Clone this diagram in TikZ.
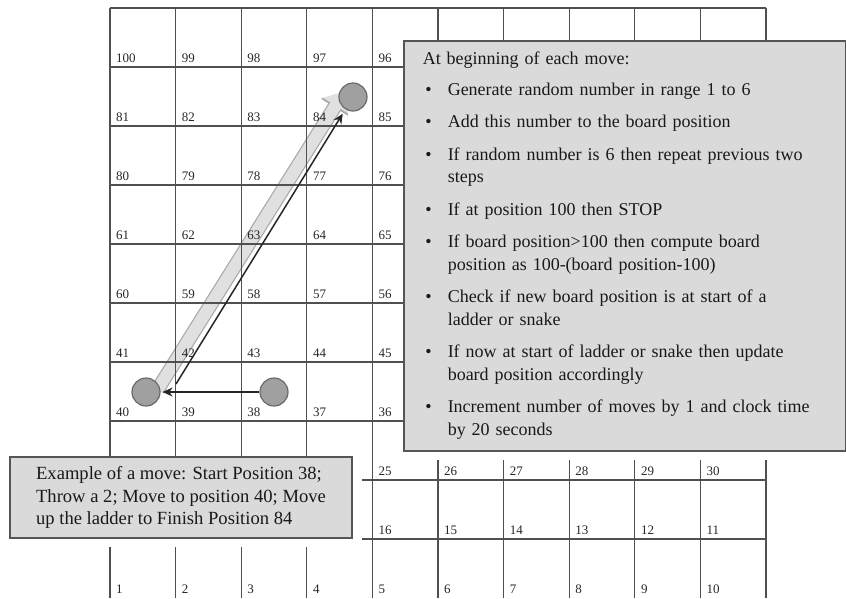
\documentclass[tikz,border=0pt]{standalone}
\usepackage{fontspec}
\setmainfont{Liberation Serif}
\usepackage{enumitem}
\usetikzlibrary{arrows.meta, shadows, backgrounds}
\definecolor{gridgray}{RGB}{80,80,80}
\definecolor{boxfill}{RGB}{218,218,218}
\definecolor{boxedge}{RGB}{85,85,85}
\definecolor{piecefill}{RGB}{160,160,160}
\definecolor{pieceedge}{RGB}{105,105,105}
\definecolor{ladderfill}{RGB}{224,224,224}
\definecolor{ladderedge}{RGB}{170,170,170}

\begin{document}
\begin{tikzpicture}[x=1pt, y=-1pt,
  gridline/.style={draw=gridgray, line width=1.3pt},
  cellnum/.style={font=\fontsize{13}{13}\selectfont, anchor=base west, inner sep=0pt, text=black!85},
  notebox/.style={draw=boxedge, fill=boxfill, line width=1.5pt, font=\fontsize{18.6}{22.5}\selectfont, align=left, text=black!90,
    drop shadow={shadow xshift=10pt, shadow yshift=-9pt, fill=white, opacity=1}},
  piece/.style={circle, draw=pieceedge, fill=piecefill, line width=1.2pt, minimum size=28pt, inner sep=0pt},
  move/.style={-{Stealth[length=10pt,width=9pt]}, line width=1.5pt, black!85},
  ladder/.style={line width=12pt, draw=ladderfill, shorten <=3pt, -{Triangle[length=16pt,width=28pt]},
    preaction={draw=ladderedge, line width=14.5pt, -{Triangle[length=18pt,width=31pt]}}}
]
\useasboundingbox (0,0) rectangle (846,598);

% --- Board grid ---
\foreach \j in {0,...,9}
  \draw[gridline] (110,{8+59*\j}) -- (766,{8+59*\j});
\foreach \i in {0,...,10}
  \draw[gridline] ({110+65.6*\i},8) -- ({110+65.6*\i},598);

% --- Square numbers (those not hidden by the notes) ---
\foreach \r in {0,...,9}{
  \foreach \c in {0,...,9}{
    \pgfmathtruncatemacro{\b}{9-\r}
    \pgfmathtruncatemacro{\n}{mod(\b,2)==0 ? 10*\b+\c+1 : 10*\b+10-\c}
    \pgfmathtruncatemacro{\hide}{or(and(\r<7,\c>4), and(or(\r==7,\r==8),\c<4))}
    \ifnum\hide=0
      \node[cellnum] (n\n) at ({110+65.6*\c+6},{8+59*(\r+1)-5}) {\n};
    \fi
  }
}

% --- Notes ---
\node[notebox, font=\fontsize{18}{22.5}\selectfont, anchor=north west, minimum width=442pt, minimum height=410pt, text width=404pt, inner xsep=19pt] (rules) at (403,40) {At beginning of each move:
\begin{itemize}[left=0pt .. 25pt, labelsep=16pt, topsep=8pt, itemsep=10pt, parsep=0pt, partopsep=0pt]
\item Generate random number in range 1 to 6
\item Add this number to the board position
\item If random number is 6 then repeat previous two\newline steps
\item If at position 100 then STOP
\item If board position>100 then compute board\newline position as 100-(board position-100)
\item Check if new board position is at start of a\newline ladder or snake
\item If now at start of ladder or snake then update\newline board position accordingly
\item Increment number of moves by 1 and clock time\newline by 20 seconds
\end{itemize}};
\node[notebox, minimum width=342pt, minimum height=81pt] (example) at (181,497.5) {Example of a move: Start Position 38;\\Throw a 2; Move to position 40; Move\\up the ladder to Finish Position 84};

% --- Counters ---
\node[piece] (c84) at (353,97) {};
\node[piece] (c40) at (146,392) {};
\node[piece] (c38) at (274,392) {};

% --- Moves ---
\draw[move, shorten >=2pt] (c38) -- (c40);
\coordinate (climb) at (176,384);
\draw[move, shorten >=5pt] (climb) -- (c84);
\begin{scope}[on background layer]
\draw[ladder] ([xshift=10pt]c40.center) -- ([shift={(-9,-5)}]c84.center);
\end{scope}

\end{tikzpicture}
\end{document}
